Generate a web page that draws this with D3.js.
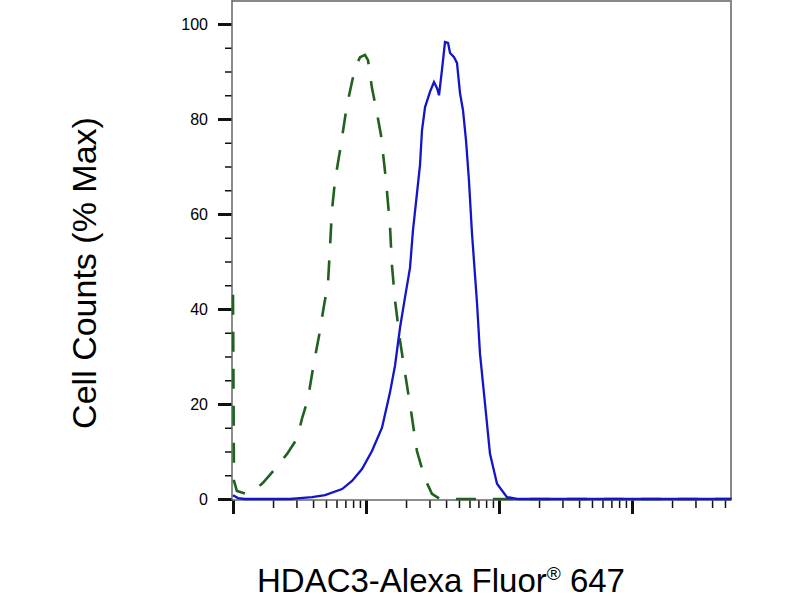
<!DOCTYPE html>
<html>
<head>
<meta charset="utf-8">
<script src="https://cdn.jsdelivr.net/npm/d3@7"></script>
<style>
  body { margin: 0; background: #fff; }
  svg { display: block; font-family: "Liberation Sans", Arial, sans-serif; }
</style>
</head>
<body>
<div id="chart"></div>
<script>
// isotype control (green dashed) - [intensity, % max]
const isotype = [
  [10, 43], [10.17, 3.8], [10.7, 1.7], [12.5, 1.1], [14.6, 1.9], [16.8, 3.4],
  [20.7, 6.3], [25.5, 9.5], [30.3, 12.7], [33.0, 16.9], [36.6, 21.1], [40.6, 28.7],
  [44.4, 34.4], [48.3, 40.7], [51.8, 45.4], [55.5, 60.8], [58.5, 67.1], [63.8, 73.4],
  [71.9, 82.9], [82.6, 90.7], [90.2, 93.0], [98.2, 93.5], [103.5, 92.4], [110.9, 86.5],
  [118.9, 82.3], [129.7, 76.6], [141.3, 67.1], [151.4, 57.6], [156.7, 49.2], [165.3, 41.8],
  [180.3, 33.3], [196.3, 26.6], [217.8, 18.6], [241.5, 10.1], [278, 4.2], [313.3, 1.1],
  [359.7, 0], [56000, 0]
];

// HDAC3 stained sample (blue solid)
const hdac3 = [
  [10, 0.8], [10.9, 0.2], [12.3, 0], [26.8, 0], [31.9, 0.2], [39.3, 0.4], [49.2, 0.8],
  [66.1, 2.1], [78.5, 3.8], [93.3, 6.3], [110.9, 10.1], [131.9, 15.0], [151.4, 22.4],
  [165.3, 28.1], [180.3, 36.1], [196.3, 42.4], [214.3, 48.7], [225.4, 56.5], [241.5, 64.3],
  [254.7, 70.3], [263.6, 77.6], [278.0, 82.5], [302.7, 85.7], [324.3, 87.8], [342.0, 86.5],
  [354.0, 85.0], [372.4, 90.3], [392.6, 96.2], [414.0, 96.0], [428.5, 93.9], [459.2, 93.0],
  [483.1, 91.8], [509.3, 85.4], [535.8, 81.9], [564.9, 75.5], [594.3, 67.1], [626.6, 55.9],
  [683.9, 41.1], [719.5, 30.6], [785.2, 20.0], [855.5, 9.5], [966.1, 3.2], [1148, 0.4],
  [1365, 0], [56000, 0]
];

const yMajor = [0, 20, 40, 60, 80, 100];
const xMajor = [10, 100, 1000, 10000];
const xMax = 55500;

const width = 800, height = 600;
const svg = d3.select("#chart").append("svg")
    .attr("width", width)
    .attr("height", height);

const x = d3.scaleLog().domain([10, xMax]).range([233, 731]);
const y = d3.scaleLinear().domain([0, 100]).range([499, 24]);

// minor ticks
const xMinor = [];
for (let d = 10; d <= 10000; d *= 10) {
  for (let k = 2; k <= 9; k++) if (d * k <= xMax) xMinor.push(d * k);
}
const yMinor = d3.range(5, 100, 5).filter(v => v % 20 !== 0);

// frame (top + right)
svg.append("path")
    .attr("d", `M232,1H731V500`)
    .attr("fill", "none")
    .attr("stroke", "#888")
    .attr("stroke-width", 2);

// x axis
const gx = svg.append("g").attr("transform", "translate(0,500)");
gx.append("g").call(d3.axisBottom(x).tickValues(xMinor).tickSize(8).tickFormat(""))
    .call(g => g.select(".domain").remove())
    .selectAll("line").attr("stroke", "#111").attr("stroke-width", 1.5);
gx.append("g").call(d3.axisBottom(x).tickValues(xMajor).tickSize(14).tickFormat(""))
    .call(g => g.select(".domain").remove())
    .selectAll("line").attr("stroke", "#111").attr("stroke-width", 3);
gx.append("line")
    .attr("x1", 232).attr("x2", 731)
    .attr("stroke", "#666").attr("stroke-width", 1.5);

// y axis
const gy = svg.append("g").attr("transform", "translate(232,0)");
gy.append("g").call(d3.axisLeft(y).tickValues(yMinor).tickSize(7).tickFormat(""))
    .call(g => g.select(".domain").remove())
    .selectAll("line").attr("stroke", "#111").attr("stroke-width", 1.5);
gy.append("g").call(d3.axisLeft(y).tickValues(yMajor).tickSize(14).tickPadding(10))
    .call(g => g.select(".domain").remove())
    .call(g => g.selectAll("line").attr("stroke", "#111").attr("stroke-width", 3))
    .call(g => g.selectAll("text")
        .attr("font-size", 16)
        .attr("font-family", "'Liberation Sans', Arial, sans-serif")
        .attr("fill", "#000"));
gy.append("line")
    .attr("y1", 0).attr("y2", 500)
    .attr("stroke", "#666").attr("stroke-width", 1.5);

// curves
const line = d3.line()
    .x(d => x(d[0]))
    .y(d => y(d[1]));

svg.append("path")
    .datum(isotype)
    .attr("d", line)
    .attr("fill", "none")
    .attr("stroke", "#1e621e")
    .attr("stroke-width", 2.6)
    .attr("stroke-dasharray", "20,17");

svg.append("path")
    .datum(hdac3)
    .attr("d", line)
    .attr("fill", "none")
    .attr("stroke", "#1414c8")
    .attr("stroke-width", 2.3);

// axis titles
svg.append("text")
    .attr("transform", "translate(96,273) rotate(-90)")
    .attr("text-anchor", "middle")
    .attr("font-size", 34)
    .attr("fill", "#000")
    .text("Cell Counts (% Max)");

const xt = svg.append("text")
    .attr("x", 441)
    .attr("y", 592)
    .attr("text-anchor", "middle")
    .attr("font-size", 33)
    .attr("fill", "#000");
xt.append("tspan").text("HDAC3-Alexa Fluor");
xt.append("tspan").attr("font-size", 19).attr("dy", -12).text("®");
xt.append("tspan").attr("dy", 12).text(" 647");
</script>
</body>
</html>
